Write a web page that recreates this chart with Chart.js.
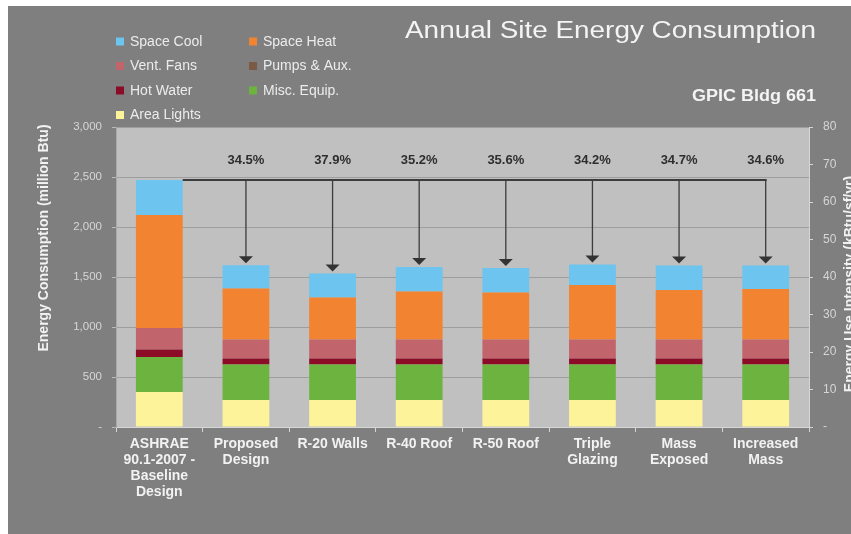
<!DOCTYPE html>
<html>
<head>
<meta charset="utf-8">
<script src="https://cdn.jsdelivr.net/npm/chart.js@4.4.1/dist/chart.umd.min.js"></script>
<style>
  html, body { margin: 0; padding: 0; background: #ffffff; }
  #wrap { width: 851px; height: 534px; }
</style>
</head>
<body>
<div id="wrap"><canvas id="c" width="851" height="534"></canvas></div>
<script>
// ---- data ----
const categories = [
  ["ASHRAE", "90.1-2007 -", "Baseline", "Design"],
  ["Proposed", "Design"],
  "R-20 Walls",
  "R-40 Roof",
  "R-50 Roof",
  ["Triple", "Glazing"],
  ["Mass", "Exposed"],
  ["Increased", "Mass"]
];
const areaLights = [350, 270, 270, 270, 270, 270, 270, 270];
const miscEquip  = [350, 355, 355, 355, 355, 355, 355, 355];
const hotWater   = [75, 60, 60, 60, 60, 60, 60, 60];
const pumpsAux   = [0, 0, 0, 0, 0, 0, 0, 0];
const ventFans   = [215, 190, 190, 190, 190, 190, 190, 190];
const spaceHeat  = [1130, 510, 420, 480, 470, 545, 495, 505];
const spaceCool  = [350, 232, 240, 245, 245, 205, 245, 235];
const savingsLabels = ["", "34.5%", "37.9%", "35.2%", "35.6%", "34.2%", "34.7%", "34.6%"];
const leftTicks = [0, 500, 1000, 1500, 2000, 2500, 3000];
const rightTicks = [0, 10, 20, 30, 40, 50, 60, 70, 80];
const chartTitle = "Annual Site Energy Consumption";
const chartSubtitle = "GPIC Bldg 661";
const leftAxisTitle = "Energy Consumption (million Btu)";
const rightAxisTitle = "Energy Use Intensity (kBtu/sf/yr)";
// legend order as shown (row by row, two columns)
const legendOrder = ["Space Cool", "Space Heat", "Vent. Fans", "Pumps & Aux.", "Hot Water", "Misc. Equip.", "Area Lights"];

const COLORS = {
  "Area Lights": "#fdf39b",
  "Misc. Equip.": "#6db33f",
  "Hot Water": "#8c0c27",
  "Pumps & Aux.": "#7a5a44",
  "Vent. Fans": "#c1646b",
  "Space Heat": "#f28431",
  "Space Cool": "#6dc4ef"
};

const series = [
  ["Area Lights", areaLights],
  ["Misc. Equip.", miscEquip],
  ["Hot Water", hotWater],
  ["Pumps & Aux.", pumpsAux],
  ["Vent. Fans", ventFans],
  ["Space Heat", spaceHeat],
  ["Space Cool", spaceCool]
];

const FONT = "'Liberation Sans', Arial, sans-serif";

function stretchText(ctx, text, x, y, font, targetW, align) {
  ctx.save();
  ctx.font = font;
  const w = ctx.measureText(text).width;
  const s = targetW / w;
  ctx.translate(x, y);
  ctx.scale(s, 1);
  ctx.textAlign = align;
  ctx.fillText(text, 0, 0);
  ctx.restore();
}

const decorPlugin = {
  id: 'decor',
  beforeDraw(chart) {
    const ctx = chart.ctx;
    const a = chart.chartArea;
    ctx.save();
    ctx.fillStyle = '#ffffff';
    ctx.fillRect(0, 0, chart.width, chart.height);
    ctx.fillStyle = '#7f7f7f';
    ctx.fillRect(8, 6, chart.width - 8, chart.height - 6);
    ctx.fillStyle = '#c0c0c0';
    ctx.fillRect(a.left, a.top, a.right - a.left, a.bottom - a.top);
    ctx.restore();
  },
  afterDatasetsDraw(chart) {
    const ctx = chart.ctx;
    const ys = chart.scales.y;
    const n = categories.length;
    const totals = [];
    for (let i = 0; i < n; i++) {
      let t = 0;
      series.forEach(s => t += s[1][i]);
      totals.push(t);
    }
    const topMeta = chart.getDatasetMeta(series.length - 1);
    const lineY = ys.getPixelForValue(totals[0]);
    const b0 = topMeta.data[0];
    const startX = b0.x + b0.width / 2;
    const endX = topMeta.data[n - 1].x;
    ctx.save();
    ctx.strokeStyle = '#3c3c3c';
    ctx.lineWidth = 2;
    ctx.beginPath();
    ctx.moveTo(startX, lineY);
    ctx.lineTo(endX + 1, lineY);
    ctx.stroke();
    ctx.lineWidth = 1.3;
    for (let i = 1; i < n; i++) {
      const bx = topMeta.data[i].x;
      const barTop = ys.getPixelForValue(totals[i]);
      const tipY = barTop - 2;
      ctx.strokeStyle = '#3c3c3c';
      ctx.beginPath();
      ctx.moveTo(bx, lineY);
      ctx.lineTo(bx, tipY - 6);
      ctx.stroke();
      ctx.fillStyle = '#333333';
      ctx.beginPath();
      ctx.moveTo(bx - 7, tipY - 7);
      ctx.lineTo(bx + 7, tipY - 7);
      ctx.lineTo(bx, tipY);
      ctx.closePath();
      ctx.fill();
      // label
      ctx.fillStyle = '#2e2e2e';
      ctx.font = "bold 13px " + FONT;
      ctx.textAlign = 'center';
      ctx.textBaseline = 'middle';
      ctx.fillText(savingsLabels[i], bx, lineY - 20);
    }
    ctx.restore();
  },
  afterDraw(chart) {
    const ctx = chart.ctx;
    ctx.save();
    // legend
    ctx.textBaseline = 'middle';
    ctx.textAlign = 'left';
    ctx.font = "14px " + FONT;
    legendOrder.forEach((name, k) => {
      const col = k % 2, row = Math.floor(k / 2);
      const x = 116 + col * 133;
      const y = 41.5 + row * 24.5;
      ctx.fillStyle = COLORS[name];
      ctx.fillRect(x, y - 4, 8, 8);
      ctx.fillStyle = '#ececec';
      ctx.fillText(name, x + 14, y + 0.5);
    });
    // title
    ctx.fillStyle = '#f4f4f4';
    ctx.textBaseline = 'alphabetic';
    stretchText(ctx, chartTitle, 405, 38, "23px " + FONT, 411, 'left');
    ctx.fillStyle = '#f4f4f4';
    stretchText(ctx, chartSubtitle, 816, 101, "bold 16px " + FONT, 124, 'right');
    // axis titles
    ctx.fillStyle = '#f2f2f2';
    ctx.font = "bold 14px " + FONT;
    ctx.textAlign = 'center';
    ctx.textBaseline = 'middle';
    ctx.save();
    ctx.translate(44, 238);
    ctx.rotate(-Math.PI / 2);
    ctx.fillText(leftAxisTitle, 0, 0);
    ctx.restore();
    ctx.save();
    ctx.translate(850, 284);
    ctx.rotate(-Math.PI / 2);
    ctx.fillText(rightAxisTitle, 0, 0);
    ctx.restore();
    ctx.restore();
  }
};

const fmt = v => v === 0 ? '-' : v.toLocaleString('en-US');

new Chart(document.getElementById('c'), {
  type: 'bar',
  data: {
    labels: categories,
    datasets: series.map(s => ({
      label: s[0],
      data: s[1],
      backgroundColor: COLORS[s[0]],
      borderWidth: 0,
      barPercentage: 0.54,
      categoryPercentage: 1.0,
      stack: 'a'
    }))
  },
  options: {
    responsive: false,
    animation: false,
    devicePixelRatio: 1,
    layout: { padding: { top: 127, left: 0, right: 0, bottom: 0 } },
    plugins: {
      legend: { display: false },
      tooltip: { enabled: false },
      title: { display: false }
    },
    scales: {
      x: {
        stacked: true,
        afterFit(s) { s.height = 107; },
        grid: { display: true, drawOnChartArea: false, drawTicks: true, tickLength: 5, color: '#d6d6d6', offset: true },
        border: { display: true, color: '#d6d6d6', width: 1 },
        ticks: {
          color: '#f2f2f2',
          font: { family: FONT, size: 14, weight: 'bold', lineHeight: 1.15 },
          padding: 4,
          maxRotation: 0,
          autoSkip: false
        }
      },
      y: {
        stacked: true,
        position: 'left',
        min: leftTicks[0],
        max: leftTicks[leftTicks.length - 1],
        afterFit(s) { s.width = 116; },
        afterBuildTicks(s) { s.ticks = leftTicks.map(v => ({ value: v })); },
        grid: { color: '#9e9e9e', tickColor: '#b8b8b8', tickLength: 4, drawTicks: true },
        border: { display: true, color: '#a8a8a8' },
        ticks: {
          color: '#d6d6d6',
          font: { family: FONT, size: 11.5 },
          padding: 10,
          callback: v => fmt(v)
        }
      },
      y2: {
        position: 'right',
        min: rightTicks[0],
        max: rightTicks[rightTicks.length - 1],
        afterFit(s) { s.width = 42; },
        afterBuildTicks(s) { s.ticks = rightTicks.map(v => ({ value: v })); },
        grid: { drawOnChartArea: false, color: '#d6d6d6', tickLength: 4 },
        border: { display: true, color: '#d6d6d6' },
        ticks: {
          color: '#d6d6d6',
          font: { family: FONT, size: 12 },
          padding: 10,
          callback: v => fmt(v)
        }
      }
    }
  },
  plugins: [decorPlugin]
});
</script>
</body>
</html>
